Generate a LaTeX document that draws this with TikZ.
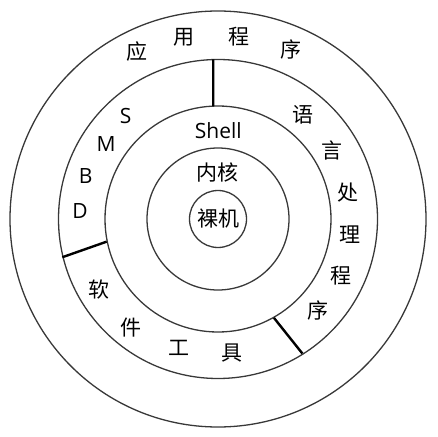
\documentclass[tikz,border=0pt]{standalone}
\usepackage{fontspec}
\setmainfont{Open Sans}
\newfontfamily\cjk{Noto Sans CJK SC}
\begin{document}
\begin{tikzpicture}[x=1pt,y=1pt,
  ring/.style={draw=black!78, line width=1.3pt},
  divider/.style={draw=black, line width=2.4pt},
  zh/.style={font=\cjk\fontsize{21}{24}\selectfont, inner sep=0pt},
  en/.style={font=\fontsize{21}{24}\selectfont, inner sep=0pt}]
\useasboundingbox (-218,-217) rectangle (220,219);
\coordinate (c) at (0,0);
% rings
\draw[ring] (c) circle (208);
\draw[ring] (c) circle (159.5);
\draw[ring] (c) circle (113);
\draw[ring] (c) circle (71);
\draw[ring] (c) circle (28.5);
% dividers
\coordinate (t1) at (92.4:113);
\coordinate (t2) at (91.7:159.8);
\coordinate (l1) at (191.5:113.6);
\coordinate (l2) at (193.8:160.3);
\coordinate (r1) at (-60.5:113.6);
\coordinate (r2) at (-57.9:158.8);
\draw[divider] (t1) -- (t2);
\draw[divider] (l1) -- (l2);
\draw[divider] (r1) -- (r2);
% center labels
\node[zh] (luoji) at (0.3,0.7) {裸机};
\node[zh] (neihe) at (-0.7,46.7) {内核};
\node[en] (shell) at (0.3,88) {Shell};
% application programs
\node[zh] (a1) at (-81.3,167.3) {应};
\node[zh] (a2) at (-34,181.3) {用};
\node[zh] (a3) at (21.3,182.3) {程};
\node[zh] (a4) at (73,169) {序};
% DBMS
\node[en] (s) at (-92.3,103.3) {S};
\node[en] (m) at (-112,75) {M};
\node[en] (b) at (-132.3,43.3) {B};
\node[en] (d) at (-138,8) {D};
% language processors
\node[zh] (y1) at (84.7,104) {语};
\node[zh] (y2) at (114.3,69) {言};
\node[zh] (y3) at (130.3,26.3) {处};
\node[zh] (y4) at (132,-15.3) {理};
\node[zh] (y5) at (122.7,-56.7) {程};
\node[zh] (y6) at (100.3,-91) {序};
% software tools
\node[zh] (g1) at (-119,-70.3) {软};
\node[zh] (g2) at (-87,-108.7) {件};
\node[zh] (g3) at (-38.7,-128.7) {工};
\node[zh] (g4) at (14.3,-134.3) {具};
\end{tikzpicture}
\end{document}
